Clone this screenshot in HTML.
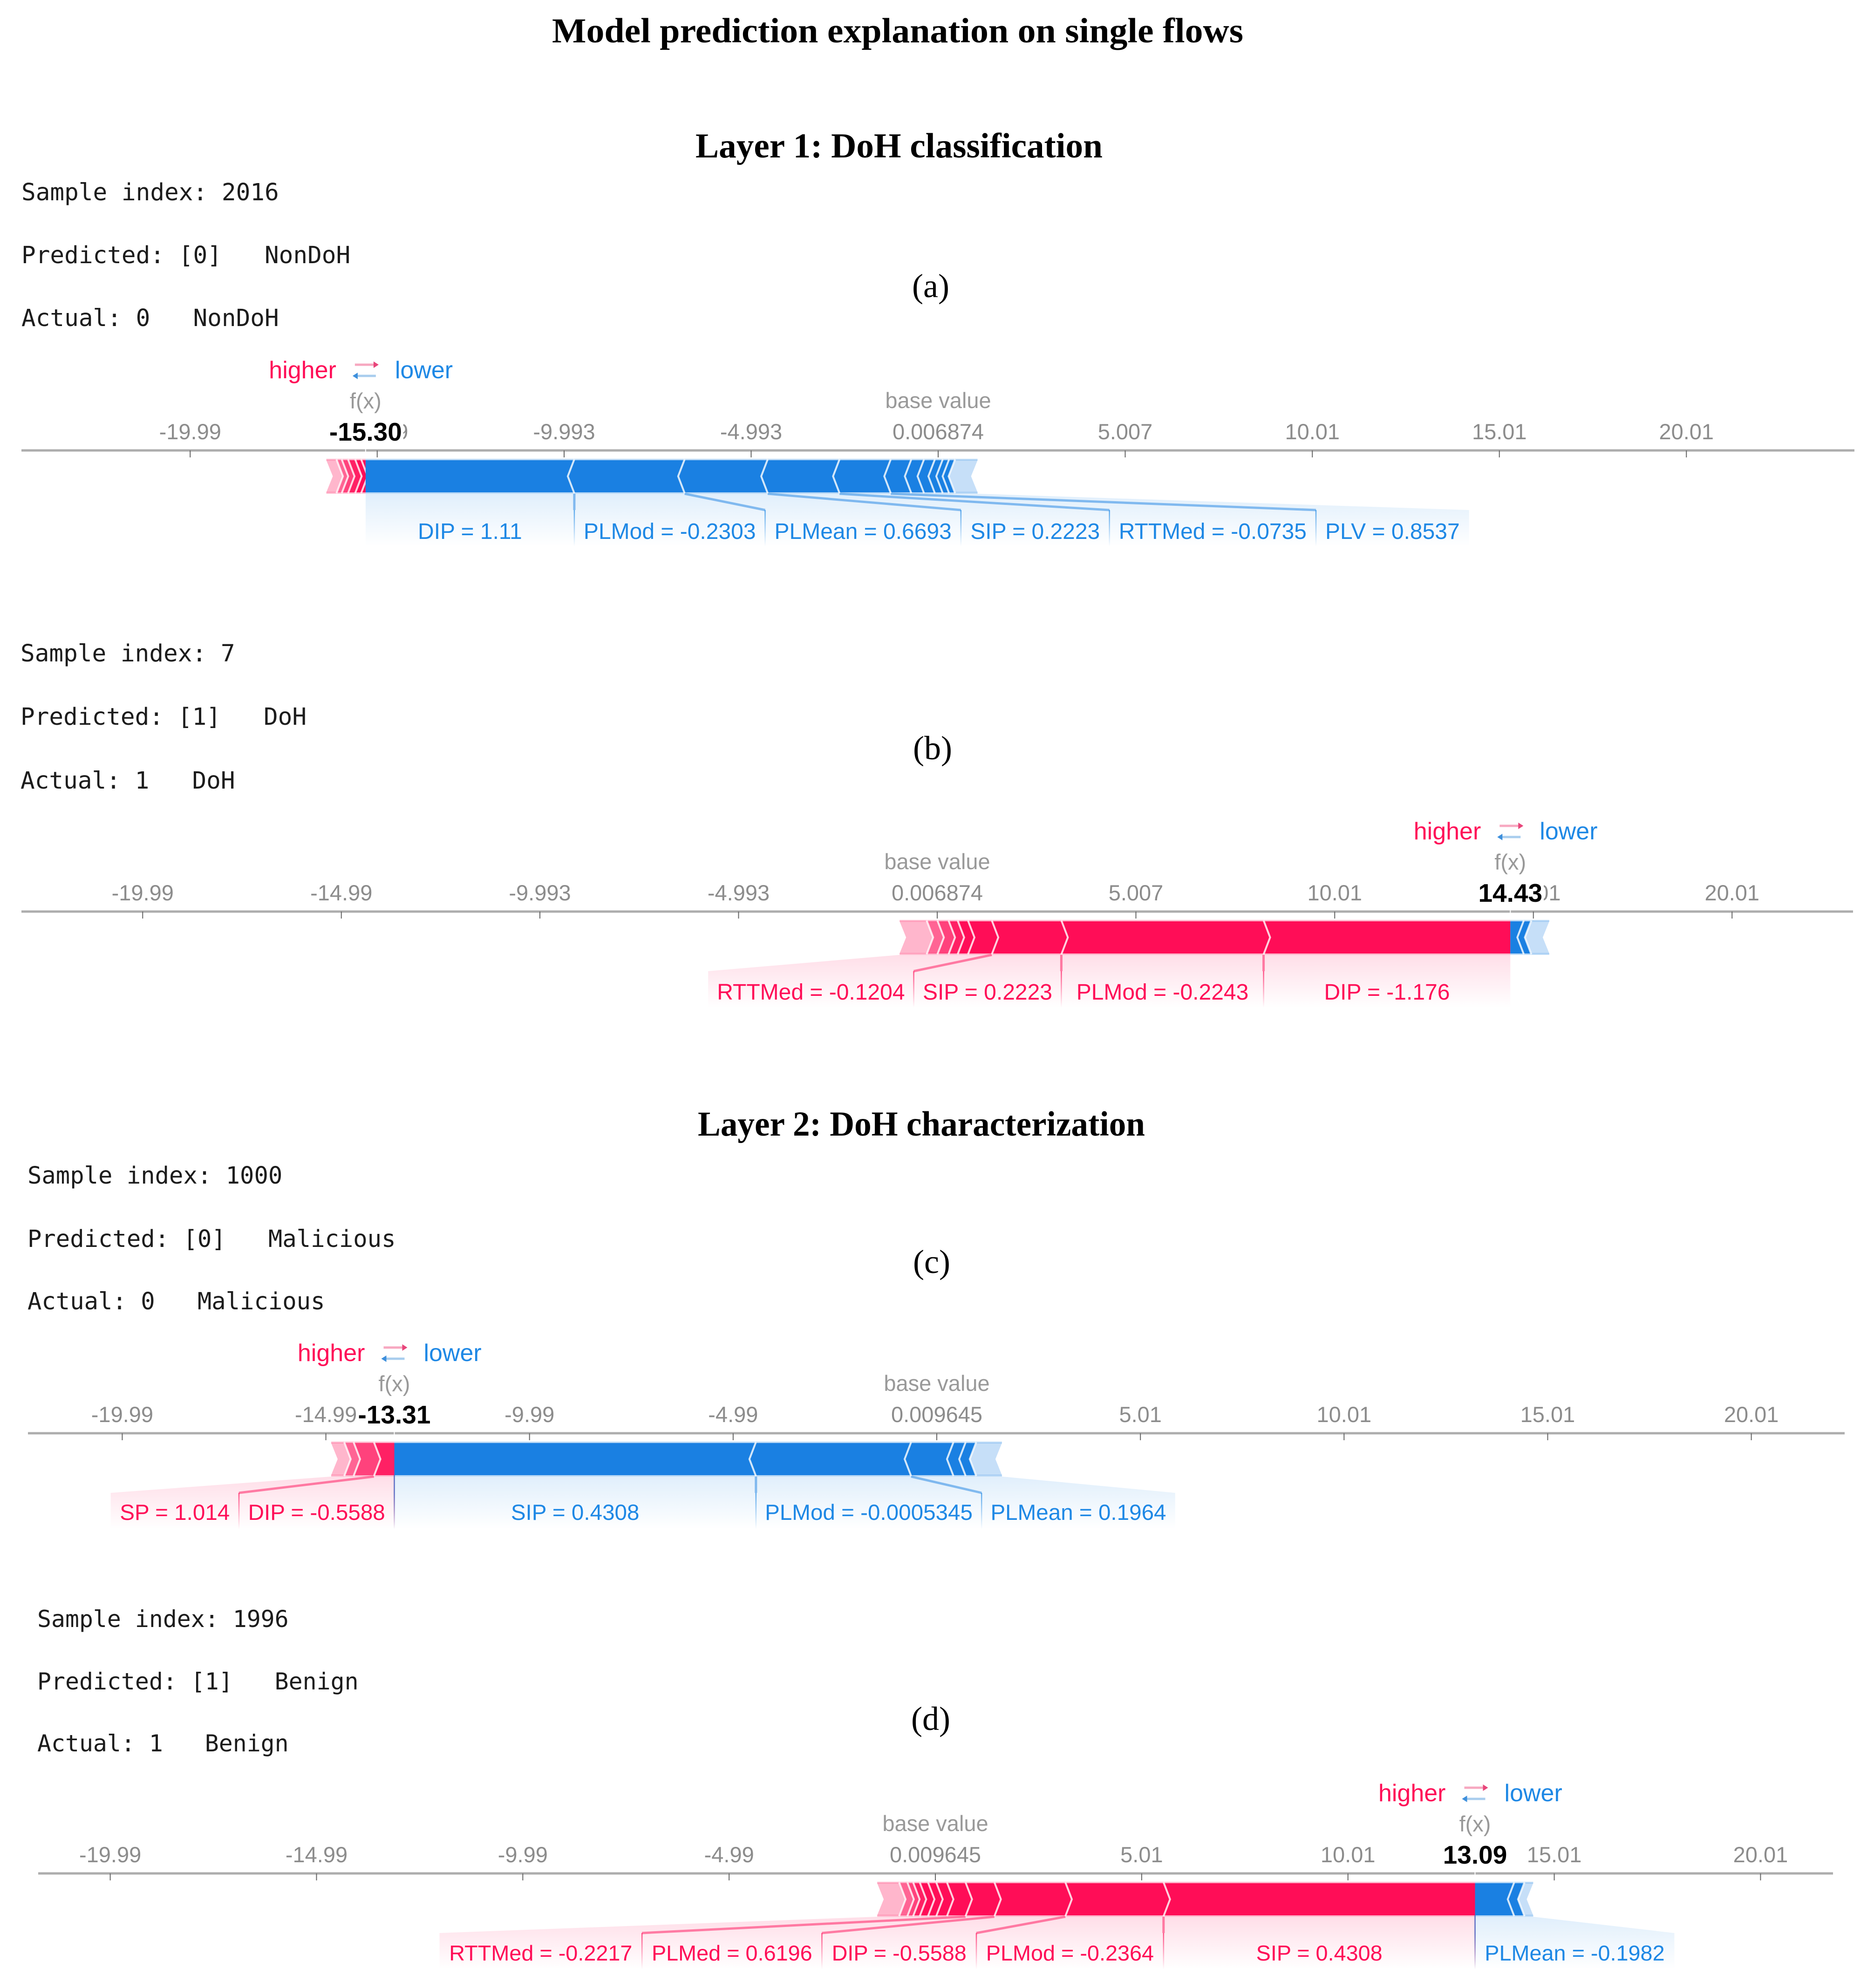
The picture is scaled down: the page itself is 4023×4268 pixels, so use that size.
<!DOCTYPE html>
<html lang="en">
<head>
<meta charset="utf-8">
<title>Model prediction explanation on single flows</title>
<style>
  html, body { margin: 0; padding: 0; background: #fff; }
  svg { display: block; }
  .mono { font-family: "DejaVu Sans Mono", "Liberation Mono", monospace; font-size: 51px; fill: #1c1c1c; }
  .mono-c { font-size: 50.5px; }
  .mono-d { font-size: 49.8px; }
  .head { font-family: "Liberation Serif", serif; font-weight: bold; font-size: 75px; fill: #000; }
  .cap { font-family: "Liberation Serif", serif; font-size: 72px; fill: #000; text-anchor: middle; }
</style>
</head>
<body>
<svg id="chart" xmlns="http://www.w3.org/2000/svg" width="4023" height="4268" viewBox="0 0 4023 4268">
  <rect x="0" y="0" width="4023" height="4268" fill="#ffffff"/>
  <text class="head" x="1185" y="91" textLength="1484" lengthAdjust="spacingAndGlyphs">Model prediction explanation on single flows</text>
  <text class="head" x="1493" y="338" textLength="874" lengthAdjust="spacingAndGlyphs">Layer 1: DoH classification</text>
  <text class="head" x="1498" y="2438" textLength="960" lengthAdjust="spacingAndGlyphs">Layer 2: DoH characterization</text>

  <g>
    <text class="mono" x="46" y="430">Sample index: 2016</text>
    <text class="mono" x="46" y="565" xml:space="preserve">Predicted: [0]   NonDoH</text>
    <text class="mono" x="46" y="700" xml:space="preserve">Actual: 0   NonDoH</text>
  </g>
  <text class="cap" x="1998" y="638">(a)</text>

  <g>
    <text class="mono" x="44" y="1420">Sample index: 7</text>
    <text class="mono" x="44" y="1556" xml:space="preserve">Predicted: [1]   DoH</text>
    <text class="mono" x="44" y="1693" xml:space="preserve">Actual: 1   DoH</text>
  </g>
  <text class="cap" x="2002" y="1630">(b)</text>

  <g>
    <text class="mono mono-c" x="59" y="2541">Sample index: 1000</text>
    <text class="mono mono-c" x="59" y="2677" xml:space="preserve">Predicted: [0]   Malicious</text>
    <text class="mono mono-c" x="59" y="2811" xml:space="preserve">Actual: 0   Malicious</text>
  </g>
  <text class="cap" x="2000" y="2733">(c)</text>

  <g>
    <text class="mono mono-d" x="80" y="3493">Sample index: 1996</text>
    <text class="mono mono-d" x="80" y="3627" xml:space="preserve">Predicted: [1]   Benign</text>
    <text class="mono mono-d" x="80" y="3760" xml:space="preserve">Actual: 1   Benign</text>
  </g>
  <text class="cap" x="1998" y="3714">(d)</text>
</svg>

<script>
// ---------- Panel (a) data ----------
const aTicks = ['-19.99','-14.99','-9.993','-4.993','0.006874','5.007','10.01','15.01','20.01'];
const aBase = 0.006874;
const aFx = -15.30;
const aFxLabel = '-15.30';
const aHigherEffects = [0.12,0.16,0.19,0.17,0.14,0.27];
const aHigherFeatures = [];
const aHigherValues = [];
const aLowerEffects = [5.58,2.95,2.22,1.92,1.37,0.55,0.34,0.29,0.21,0.17,0.16,0.60];
const aLowerFeatures = ['DIP','PLMod','PLMean','SIP','RTTMed','PLV'];
const aLowerValues = ['1.11','-0.2303','0.6693','0.2223','-0.0735','0.8537'];

// ---------- Panel (b) data ----------
const bTicks = ['-19.99','-14.99','-9.993','-4.993','0.006874','5.007','10.01','15.01','20.01'];
const bBase = 0.006874;
const bFx = 14.43;
const bFxLabel = '14.43';
const bHigherEffects = [6.21,5.09,1.75,0.60,0.26,0.23,0.28,0.27,0.68];
const bHigherFeatures = ['DIP','PLMod','SIP','RTTMed'];
const bHigherValues = ['-1.176','-0.2243','0.2223','-0.1204'];
const bLowerEffects = [0.34,0.19,0.45];
const bLowerFeatures = [];
const bLowerValues = [];

// ---------- Panel (c) data ----------
const cTicks = ['-19.99','-14.99','-9.99','-4.99','0.009645','5.01','10.01','15.01','20.01'];
const cBase = 0.009645;
const cFx = -13.31;
const cFxLabel = '-13.31';
const cHigherEffects = [0.50,0.50,0.23,0.32];
const cHigherFeatures = ['DIP','SP'];
const cHigherValues = ['-0.5588','1.014'];
const cLowerEffects = [8.88,3.81,1.04,0.30,0.26,0.63];
const cLowerFeatures = ['SIP','PLMod','PLMean'];
const cLowerValues = ['0.4308','-0.0005345','0.1964'];

// ---------- Panel (d) data ----------
const dTicks = ['-19.99','-14.99','-9.99','-4.99','0.009645','5.01','10.01','15.01','20.01'];
const dBase = 0.009645;
const dFx = 13.09;
const dFxLabel = '13.09';
const dHigherEffects = [7.55,2.38,1.72,0.70,0.45,0.26,0.20,0.20,0.16,0.14,0.20,0.53];
const dHigherFeatures = ['SIP','PLMod','DIP','PLMed','RTTMed'];
const dHigherValues = ['0.4308','-0.2364','-0.5588','0.6196','-0.2217'];
const dLowerEffects = [0.95,0.25,0.21];
const dLowerFeatures = ['PLMean'];
const dLowerValues = ['-0.1982'];

// ---------- Drawing ----------
const NS = 'http://www.w3.org/2000/svg';
const svg = document.getElementById('chart');
const PINK = '#ff0d57';
const BLUE = '#1a80e2';
const BLUE_TEXT = '#1e88e5';
const SANS = '"Liberation Sans", sans-serif';
const CHEVRON = 14;
const ctx = document.createElement('canvas').getContext('2d');

function textWidth(str, font) {
  ctx.font = font;
  return ctx.measureText(str).width;
}

function mk(tag, attrs, parent, text) {
  const el = document.createElementNS(NS, tag);
  for (const k in attrs) el.setAttribute(k, attrs[k]);
  if (text !== undefined) el.textContent = text;
  parent.appendChild(el);
  return el;
}

function pts(list) {
  return list.map(p => p[0].toFixed(1) + ',' + p[1].toFixed(1)).join(' ');
}

function addGradient(defs, id, color, y1, y2, top) {
  const g = mk('linearGradient', {id: id, gradientUnits: 'userSpaceOnUse', x1: 0, x2: 0, y1: y1, y2: y2}, defs);
  mk('stop', {offset: 0, 'stop-color': color, 'stop-opacity': top}, g);
  mk('stop', {offset: 1, 'stop-color': color, 'stop-opacity': 0}, g);
}

function drawPanel(key, layout, ticks, base, fx, fxLabel, hiEff, hiFeat, hiVal, loEff, loFeat, loVal) {
  const axisY = layout.axisY;
  const xScale = v => layout.basePx + (v - base) * layout.pxPerUnit;
  const barTop = axisY + 21;
  const barBottom = axisY + 90;
  const barMid = (barTop + barBottom) / 2;
  const labelTop = axisY + 128;
  const fadeBottom = axisY + 206;
  const fxPx = xScale(fx);

  const group = mk('g', {}, svg);
  
  

  const defs = mk('defs', {}, group);
  addGradient(defs, key + '-fill-pink', PINK, barBottom, fadeBottom, 0.14);
  addGradient(defs, key + '-fill-blue', BLUE_TEXT, barBottom, fadeBottom, 0.14);
  addGradient(defs, key + '-line-pink', PINK, labelTop, fadeBottom, 0.7);
  addGradient(defs, key + '-line-blue', BLUE_TEXT, labelTop, fadeBottom, 0.7);

  // axis
  const axis = mk('line', {x1: layout.x0, x2: layout.x1, y1: axisY, y2: axisY, stroke: '#adadad', 'stroke-width': 5}, group);
  
  

  ticks.forEach(label => {
    const x = xScale(parseFloat(label));
    const tick = mk('line', {x1: x, x2: x, y1: axisY, y2: axisY + 15, stroke: '#666', 'stroke-width': 2}, group);
    
    
    const tl = mk('text', {x: x, y: axisY - 24, 'text-anchor': 'middle', 'font-family': SANS, 'font-size': 47, fill: '#8c8c8c'}, group, label);
    
    
  });

  // base value label
  const baseText = mk('text', {x: xScale(base), y: axisY - 91, 'text-anchor': 'middle', 'font-family': SANS, 'font-size': 47, fill: '#999'}, group, 'base value');
  
  

  // f(x) labels
  const fxFont = 'bold 55px ' + SANS;
  const fxW = textWidth(fxLabel, fxFont);
  const mask = mk('rect', {x: fxPx - fxW / 2 - 3, y: axisY - 66, width: fxW + 6, height: 58, fill: '#fff'}, group);
  
  
  const fxName = mk('text', {x: fxPx, y: axisY - 90, 'text-anchor': 'middle', 'font-family': SANS, 'font-size': 47, fill: '#999'}, group, 'f(x)');
  
  
  const fxVal = mk('text', {x: fxPx, y: axisY - 21, 'text-anchor': 'middle', 'font-family': SANS, 'font-size': 55, 'font-weight': 'bold', fill: '#000'}, group, fxLabel);
  
  
  const fxTick = mk('line', {x1: fxPx, x2: fxPx, y1: axisY - 3, y2: axisY + 3, stroke: '#fff', 'stroke-width': 2}, group);
  
  

  // legend
  const hi = mk('text', {x: fxPx - 63, y: axisY - 155, 'text-anchor': 'end', 'font-family': SANS, 'font-size': 52, fill: PINK}, group, 'higher');
  
  
  const lo = mk('text', {x: fxPx + 63, y: axisY - 155, 'text-anchor': 'start', 'font-family': SANS, 'font-size': 52, fill: BLUE_TEXT}, group, 'lower');
  
  
  const arrowR = mk('line', {x1: fxPx - 23, y1: axisY - 184, x2: fxPx + 20, y2: axisY - 184, stroke: '#f7a8c0', 'stroke-width': 5}, group);
  
  
  const headR = mk('polygon', {points: pts([[fxPx + 17, axisY - 191], [fxPx + 28, axisY - 184], [fxPx + 17, axisY - 177]]), fill: '#e8457a'}, group);
  
  
  const arrowL = mk('line', {x1: fxPx + 22, y1: axisY - 160, x2: fxPx - 20, y2: axisY - 160, stroke: '#a8cdee', 'stroke-width': 5}, group);
  
  
  const headL = mk('polygon', {points: pts([[fxPx - 17, axisY - 167], [fxPx - 28, axisY - 160], [fxPx - 17, axisY - 153]]), fill: '#3d8fdc'}, group);
  
  

  // one side of the bar: dir = -1 goes left (higher, pink), dir = +1 goes right (lower, blue)
  function side(effects, features, values, dir, color, textColor, kind) {
    const bounds = [fxPx];
    effects.forEach(e => bounds.push(bounds[bounds.length - 1] + dir * e * layout.pxPerUnit));
    const endPx = bounds[bounds.length - 1];

    const sideGroup = mk('g', {}, group);
    
    

    let edge = fxPx;
    features.forEach((name, i) => {
      const str = name + ' = ' + values[i];
      const w = textWidth(str, layout.labelSize + 'px ' + SANS) + layout.labelPad;
      const segA = bounds[i];
      const segB = bounds[i + 1];
      const isLast = i === features.length - 1;
      const segW = Math.abs(segB - segA);
      const clear = dir > 0 ? edge <= segA + 4 : edge >= segA - 4;
      let boxA, boxB;
      if (segW >= w && clear) {
        boxA = segA;
        boxB = segB;
      } else {
        boxA = edge;
        boxB = edge + dir * w;
      }
      const barEdge = isLast ? endPx : segB;
      const region = mk('polygon', {points: pts([[segA, barBottom + 3], [barEdge, barBottom + 3], [boxB, labelTop], [boxB, fadeBottom], [boxA, fadeBottom], [boxA, labelTop]]), fill: 'url(#' + key + '-fill-' + (dir > 0 ? 'blue' : 'pink') + ')'}, sideGroup);
      
      

      if (!isLast) {
        const slant = mk('line', {x1: segB, y1: barBottom + 3, x2: boxB, y2: labelTop, stroke: color, 'stroke-opacity': 0.5, 'stroke-width': 5}, sideGroup);
        
        
        const drop = mk('line', {x1: boxB, y1: labelTop, x2: boxB + 0.01, y2: fadeBottom, stroke: 'url(#' + key + '-line-' + (dir > 0 ? 'blue' : 'pink') + ')', 'stroke-width': 2.5}, sideGroup);
        
        
      }
      const label = mk('text', {x: (boxA + boxB) / 2, y: axisY + layout.labelDy, 'text-anchor': 'middle', 'font-family': SANS, 'font-size': layout.labelSize, fill: textColor}, sideGroup, str);
      
      
      edge = boxB;
    });

    if (layout.fxConnector && features.length) {
      const first = mk('line', {x1: fxPx, y1: barBottom, x2: fxPx + 0.01, y2: fadeBottom, stroke: 'url(#' + key + '-line-' + (dir > 0 ? 'blue' : 'pink') + ')', 'stroke-width': 2.5}, sideGroup);
      
      
    }

    // segments
    const tip = dir > 0 ? -CHEVRON : CHEVRON;
    const last = effects.length - 1;
    effects.forEach((e, i) => {
      const inner = bounds[i];
      const outer = bounds[i + 1];
      const innerTip = i === 0 ? inner : inner + tip;
      const poly = [[inner, barTop], [innerTip, barMid], [inner, barBottom], [outer, barBottom], [outer + tip, barMid], [outer, barTop]];
      let op = 1;
      if (i === last) op = dir > 0 ? 0.25 : 0.3;
      else if (dir < 0) op = Math.min(1, 0.5 + 0.14 * (last - i));
      const seg = mk('polygon', {points: pts(poly), fill: color, 'fill-opacity': op}, sideGroup);
      
      
    });
    // top / bottom soft edge
    const lowX = Math.min(fxPx, endPx);
    const widthX = Math.abs(endPx - fxPx);
    const topEdge = mk('rect', {x: lowX, y: barTop - 3, width: widthX, height: 4, fill: color, 'fill-opacity': 0.3}, sideGroup);
    
    
    const botEdge = mk('rect', {x: lowX, y: barBottom - 1, width: widthX, height: 4, fill: color, 'fill-opacity': 0.3}, sideGroup);
    
    
    // chevron separators
    for (let i = 1; i < last + 1; i++) {
      const b = bounds[i];
      const sep = mk('polyline', {points: pts([[b, barTop - 2], [b + tip, barMid], [b, barBottom + 2]]), fill: 'none', stroke: '#fff', 'stroke-opacity': 0.8, 'stroke-width': 4}, sideGroup);
      
      
    }
  }

  side(hiEff, hiFeat, hiVal, -1, PINK, PINK, 'higher');
  side(loEff, loFeat, loVal, 1, BLUE, BLUE_TEXT, 'lower');
}

drawPanel('a', {axisY: 967, x0: 46, x1: 3981, basePx: 2014, pxPerUnit: 80.3, fxConnector: false, labelSize: 48, labelPad: 40, labelDy: 190},
  aTicks, aBase, aFx, aFxLabel, aHigherEffects, aHigherFeatures, aHigherValues, aLowerEffects, aLowerFeatures, aLowerValues);
drawPanel('b', {axisY: 1957, x0: 46, x1: 3978, basePx: 2012, pxPerUnit: 85.3, fxConnector: false, labelSize: 48, labelPad: 38, labelDy: 189},
  bTicks, bBase, bFx, bFxLabel, bHigherEffects, bHigherFeatures, bHigherValues, bLowerEffects, bLowerFeatures, bLowerValues);
drawPanel('c', {axisY: 3077, x0: 60, x1: 3960, basePx: 2011, pxPerUnit: 87.43, fxConnector: true, labelSize: 47.6, labelPad: 38.5, labelDy: 186},
  cTicks, cBase, cFx, cFxLabel, cHigherEffects, cHigherFeatures, cHigherValues, cLowerEffects, cLowerFeatures, cLowerValues);
drawPanel('d', {axisY: 4022, x0: 82, x1: 3935, basePx: 2008, pxPerUnit: 88.57, fxConnector: true, labelSize: 46.8, labelPad: 41.5, labelDy: 187},
  dTicks, dBase, dFx, dFxLabel, dHigherEffects, dHigherFeatures, dHigherValues, dLowerEffects, dLowerFeatures, dLowerValues);
</script>
</body>
</html>
